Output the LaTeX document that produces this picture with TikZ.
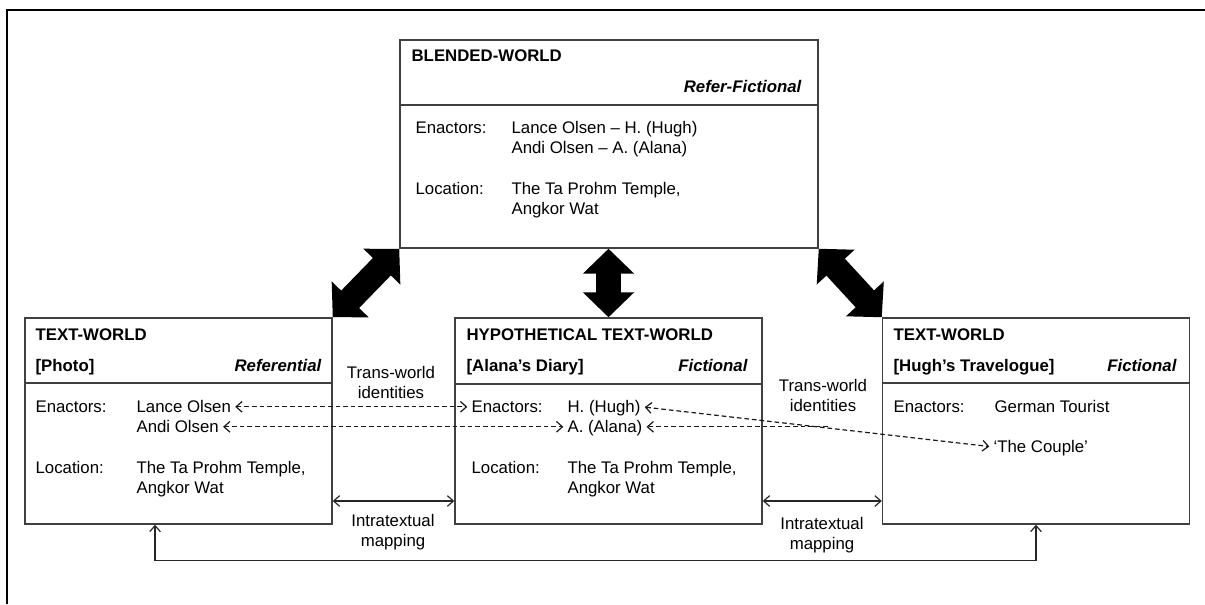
\documentclass[tikz,border=0pt]{standalone}
\usepackage{fontspec}
\setmainfont{Liberation Sans}
\usetikzlibrary{arrows.meta}

\tikzset{
  world/.style={draw=black!75, line width=1.1pt, inner sep=0pt,
    minimum width=230.25pt, minimum height=154.5pt},
  txt/.style={anchor=base west, inner sep=1pt, text height=8.8pt, text depth=1pt,
    font=\fontsize{12.6}{15}\selectfont},
  hdr/.style={txt, font=\fontsize{12.6}{15}\selectfont\bfseries},
  kind/.style={hdr, anchor=base east, font=\fontsize{12.6}{15}\selectfont\bfseries\itshape},
  lbl/.style={align=center, inner sep=1pt, font=\fontsize{12.6}{15}\selectfont},
  bigarrow/.style={line width=18.75pt,
    {Triangle[length=18.75pt,width=37.5pt]}-{Triangle[length=18.75pt,width=37.5pt]}},
  maparrow/.style={line width=0.9pt, black!85,
    {Straight Barb[length=4.5pt,width=8pt]}-{Straight Barb[length=4.5pt,width=8pt]}},
  idarrow/.style={line width=0.9pt, black!90, dash pattern=on 3.5pt off 2.2pt,
    shorten <=2pt, shorten >=2pt,
    {Straight Barb[length=4.5pt,width=8pt]}-{Straight Barb[length=4.5pt,width=8pt]}}
}

\begin{document}
\begin{tikzpicture}[x=0.75pt, y=-0.75pt]
  \useasboundingbox (0,0) rectangle (1205,604);

  % Frame
  \draw[line width=1.4pt] (7,604) -- (7,10) -- (1205,10);

  % Define boxes
  \node[world, minimum width=313.5pt, minimum height=156pt] (B) at (609,144) {};
  \node[world] (L) at (178.5,421) {};
  \node[world] (M) at (608.5,421) {};
  \node[world] (R) at (1036,421) {};

  \draw[black!75, line width=1.1pt] (B.west |- 0,105) -- (B.east |- 0,105);
  \draw[black!75, line width=1.1pt] (L.west |- 0,383) -- (L.east |- 0,383);
  \draw[black!75, line width=1.1pt] (M.west |- 0,384) -- (M.east |- 0,384);
  \draw[black!75, line width=1.1pt] (R.west |- 0,383) -- (R.east |- 0,383);

  % Blended world
  \node[hdr] (Bt) at (410,61) {BLENDED-WORLD};
  \node[kind] (Bk) at (803,92) {Refer-Fictional};
  \node[txt] (Be) at (414,133) {Enactors:};
  \node[txt] (Bn1) at (510,133) {Lance Olsen – H. (Hugh)};
  \node[txt] (Bn2) at (510,153) {Andi Olsen – A. (Alana)};
  \node[txt] (Bl) at (414,194) {Location:};
  \node[txt] (Bp1) at (510,194) {The Ta Prohm Temple,};
  \node[txt] (Bp2) at (510,214) {Angkor Wat};

  % Text world (photo)
  \node[hdr] (Lt) at (34,340) {TEXT-WORLD};
  \node[hdr] (Ls) at (34,371) {[Photo]};
  \node[kind] (Lk) at (323,371) {Referential};
  \node[txt] (Le) at (34,412) {Enactors:};
  \node[txt] (lance) at (135,412) {Lance Olsen};
  \node[txt] (andi) at (135,432) {Andi Olsen};
  \node[txt] (Ll) at (34,473) {Location:};
  \node[txt] (Lp1) at (135,473) {The Ta Prohm Temple,};
  \node[txt] (Lp2) at (135,493) {Angkor Wat};

  % Hypothetical text world (diary)
  \node[hdr] (Mt) at (465,340) {HYPOTHETICAL TEXT-WORLD};
  \node[hdr] (Ms) at (465,371) {[Alana’s Diary]};
  \node[kind] (Mk) at (749,371) {Fictional};
  \node[txt] (Me) at (470,412) {Enactors:};
  \node[txt] (hugh) at (566,412) {H. (Hugh)};
  \node[txt] (alana) at (566,432) {A. (Alana)};
  \node[txt] (Ml) at (470,473) {Location:};
  \node[txt] (Mp1) at (566,473) {The Ta Prohm Temple,};
  \node[txt] (Mp2) at (566,493) {Angkor Wat};

  % Text world (travelogue)
  \node[hdr] (Rt) at (892,340) {TEXT-WORLD};
  \node[hdr] (Rs) at (892,371) {[Hugh’s Travelogue]};
  \node[kind] (Rk) at (1178,371) {Fictional};
  \node[txt] (Re) at (892,412) {Enactors:};
  \node[txt] (tourist) at (993,412) {German Tourist};
  \node[txt] (couple) at (992,452) {‘The Couple’};

  % Labels
  \node[lbl] (T1) at (391,382) {Trans-world\\identities};
  \node[lbl] (T2) at (823,395) {Trans-world\\identities};
  \node[lbl] (I1) at (393,532) {Intratextual\\mapping};
  \node[lbl] (I2) at (822,535) {Intratextual\\mapping};

  % Connect the boxes
  \draw[bigarrow] (B.south west) -- (L.north east);
  \draw[bigarrow] (M.north |- B.south) -- (M.north);
  \draw[bigarrow] (B.south east) -- (R.north west);

  \draw[maparrow] ([yshift=-60pt]L.east) -- ([yshift=-60pt]M.west);
  \draw[maparrow] ([yshift=-60pt]M.east) -- ([yshift=-60pt]R.west);
  \draw[maparrow] ([xshift=-17.6pt]L.south) -- ++(0,36) -| (R.south);

  % Trans-world identities
  \draw[idarrow] (lance.east) -- (Me.west);
  \draw[idarrow] (andi.east) -- (alana.west);
  \draw[idarrow] (hugh.east) -- (couple.west);
  \coordinate (meetx) at (828,0);
  \coordinate (meet) at (alana.east -| meetx);
  \draw[idarrow, shorten <=0pt, -{Straight Barb[length=4.5pt,width=8pt]}] (meet) -- (alana.east);

\end{tikzpicture}
\end{document}
